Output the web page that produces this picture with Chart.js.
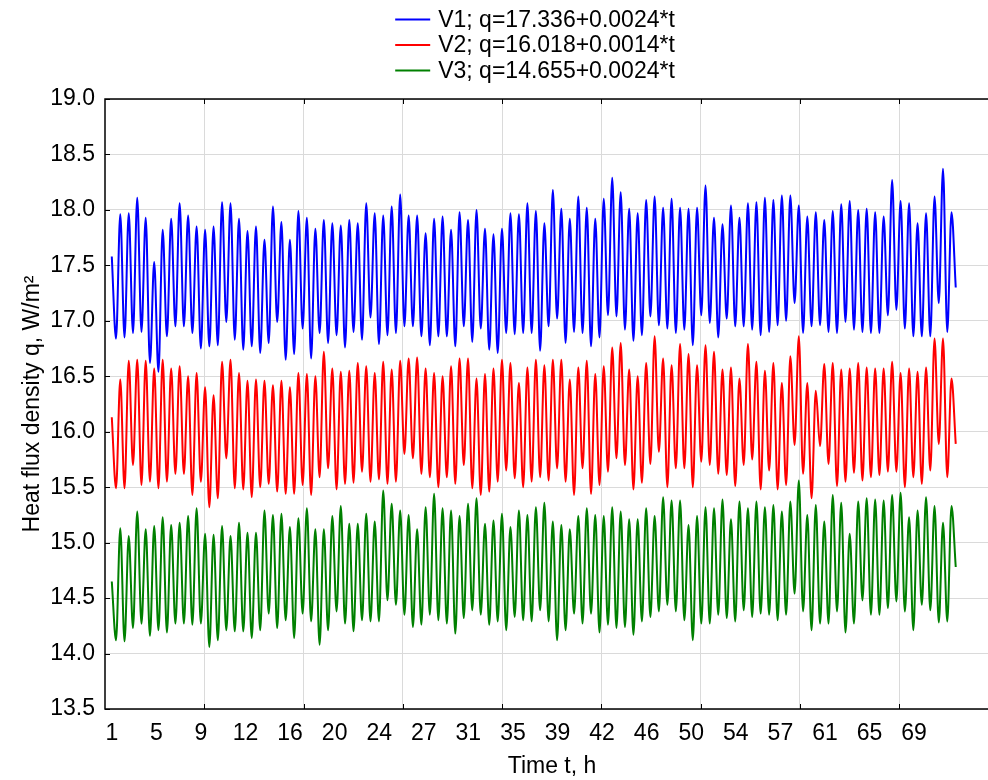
<!DOCTYPE html>
<html>
<head>
<meta charset="utf-8">
<title>Heat flux density</title>
<script src="https://cdn.jsdelivr.net/npm/chart.js@4.4.1/dist/chart.umd.min.js"></script>
<style>
  html, body { margin: 0; padding: 0; background: #fff; overflow: hidden; }
  #wrap { width: 1070px; height: 780px; }
</style>
</head>
<body>
<div id="wrap"><canvas id="chart" width="1070" height="780"></canvas></div>
<script>
// Nombres de las series (leyenda)
const seriesNames = ['V1; q=17.336+0.0024*t', 'V2; q=16.018+0.0014*t', 'V3; q=14.655+0.0024*t'];

// Etiquetas del eje de tiempo, h
const timeLabels = ['1', '5', '9', '12', '16', '20', '24', '27', '31', '35', '39', '42', '46', '50', '54', '57', '61', '65', '69'];

// Valores: máximos y mínimos alternos de cada serie, W/m2
const v1 = [17.58,
  16.84, 17.96, 16.85, 17.97, 16.89, 18.11, 16.90, 17.93, 16.62, 17.53, 16.54, 17.82, 16.86, 17.92, 16.95, 18.06, 16.95, 17.95, 16.89, 17.85, 16.75, 17.82, 16.77, 17.85,
  16.78, 18.07, 16.99, 18.06, 16.83, 17.92, 16.74, 17.81, 16.77, 17.85, 16.71, 17.73, 16.80, 18.03, 16.99, 17.89, 16.65, 17.73, 16.70, 17.99, 16.93, 17.93, 16.66, 17.83, 16.89, 17.91,
  16.80, 17.88, 16.87, 17.86, 16.76, 17.91, 16.90, 17.88, 16.83, 18.06, 17.03, 17.97, 16.79, 17.95, 16.87, 18.03, 16.89, 18.14, 16.95, 17.95, 16.95, 17.95, 16.86, 17.79, 16.78, 17.92,
  16.86, 17.94, 16.86, 17.82, 16.77, 17.98, 16.95, 17.91, 16.81, 18.00, 16.93, 17.83, 16.74, 17.78, 16.71, 17.83, 16.89, 17.97, 16.88, 17.96, 16.89, 18.06, 16.89, 17.99, 16.73, 17.88,
  16.95, 18.18, 17.02, 18.01, 16.80, 17.92, 16.90, 18.12, 16.89, 18.02, 16.77, 17.92, 16.85, 18.10, 17.05, 18.29, 17.04, 18.16, 16.92, 18.01, 16.82, 17.97, 16.87, 18.09, 17.04, 18.12,
  16.96, 18.02, 16.93, 18.10, 16.89, 18.02, 16.92, 18.01, 16.78, 18.02, 17.05, 18.22, 16.98, 17.93, 16.85, 17.87, 17.02, 18.04, 16.95, 17.93, 16.95, 18.06, 16.92, 18.07, 16.87,
  18.11, 16.90, 18.09, 16.96, 18.13, 17.00, 18.13, 17.16, 18.04, 16.89, 17.94, 16.95, 17.98, 16.96, 17.91, 16.90, 17.99, 16.89, 18.05, 16.99, 18.08, 16.92, 18.00, 16.90, 18.01, 16.89,
  17.98, 16.89, 17.94, 17.05, 18.27, 17.10, 18.08, 16.93, 18.06, 16.86, 17.88, 16.86, 17.97, 16.86, 18.12, 17.16, 18.37, 16.90, 17.98, 17.30];

const v2 = [16.13,
  15.49, 16.47, 15.49, 16.64, 15.70, 16.65, 15.52, 16.64, 15.55, 16.57, 15.49, 16.65, 15.55, 16.57, 15.62, 16.59, 15.62, 16.50, 15.43, 16.53, 15.55, 16.40, 15.32, 16.33,
  15.40, 16.63, 15.76, 16.65, 15.49, 16.53, 15.48, 16.46, 15.41, 16.47, 15.50, 16.46, 15.53, 16.42, 15.46, 16.46, 15.44, 16.40, 15.44, 16.53, 15.52, 16.52, 15.43, 16.50, 15.59, 16.72,
  15.67, 16.57, 15.48, 16.54, 15.53, 16.55, 15.54, 16.62, 15.64, 16.59, 15.55, 16.53, 15.57, 16.63, 15.53, 16.56, 15.55, 16.64, 15.80, 16.66, 15.76, 16.67, 15.62, 16.57, 15.59, 16.53,
  15.50, 16.50, 15.59, 16.59, 15.53, 16.66, 15.70, 16.66, 15.49, 16.48, 15.43, 16.52, 15.46, 16.57, 15.55, 16.65, 15.65, 16.62, 15.58, 16.44, 15.50, 16.58, 15.55, 16.65, 15.59, 16.60,
  15.56, 16.65, 15.67, 16.65, 15.55, 16.47, 15.43, 16.58, 15.67, 16.64, 15.44, 16.52, 15.52, 16.59, 15.64, 16.76, 15.76, 16.80, 15.70, 16.56, 15.48, 16.50, 15.54, 16.62, 15.71, 16.86,
  15.82, 16.66, 15.50, 16.60, 15.67, 16.79, 15.67, 16.70, 15.50, 16.60, 15.73, 16.78, 15.70, 16.72, 15.62, 16.56, 15.61, 16.58, 15.51, 16.48, 15.70, 16.79, 15.75, 16.63, 15.48,
  16.55, 15.65, 16.62, 15.48, 16.44, 15.52, 16.68, 15.88, 16.86, 15.62, 16.44, 15.40, 16.37, 15.87, 16.61, 15.71, 16.62, 15.51, 16.56, 15.55, 16.57, 15.63, 16.62, 15.56, 16.58, 15.59,
  16.57, 15.61, 16.57, 15.64, 16.63, 15.64, 16.53, 15.50, 16.57, 15.59, 16.54, 15.53, 16.58, 15.65, 16.84, 15.89, 16.84, 15.59, 16.48, 15.89];

const v3 = [14.65,
  14.12, 15.13, 14.11, 15.06, 14.23, 15.28, 14.27, 15.12, 14.16, 15.15, 14.21, 15.23, 14.19, 15.16, 14.27, 15.18, 14.27, 15.24, 14.26, 15.31, 14.27, 15.08, 14.06, 15.07,
  14.12, 15.15, 14.21, 15.06, 14.20, 15.18, 14.20, 15.09, 14.14, 15.09, 14.21, 15.29, 14.36, 15.25, 14.23, 15.26, 14.30, 15.14, 14.14, 15.22, 14.36, 15.31, 14.29, 15.12, 14.08, 15.12,
  14.21, 15.24, 14.38, 15.33, 14.27, 15.17, 14.20, 15.17, 14.30, 15.26, 14.29, 15.19, 14.29, 15.47, 14.48, 15.35, 14.44, 15.29, 14.35, 15.25, 14.24, 15.12, 14.26, 15.32, 14.35, 15.44,
  14.30, 15.31, 14.27, 15.29, 14.18, 15.24, 14.32, 15.35, 14.39, 15.40, 14.35, 15.17, 14.26, 15.20, 14.29, 15.26, 14.21, 15.14, 14.33, 15.29, 14.30, 15.25, 14.29, 15.32, 14.39, 15.36,
  14.29, 15.19, 14.12, 15.16, 14.21, 15.12, 14.36, 15.24, 14.27, 15.31, 14.36, 15.25, 14.19, 15.24, 14.26, 15.32, 14.23, 15.28, 14.24, 15.21, 14.17, 15.21, 14.29, 15.31, 14.33, 15.24,
  14.38, 15.41, 14.44, 15.38, 14.38, 15.38, 14.30, 15.16, 14.12, 15.24, 14.27, 15.32, 14.27, 15.31, 14.35, 15.39, 14.32, 15.21, 14.29, 15.37, 14.39, 15.31, 14.33, 15.37, 14.36,
  15.32, 14.35, 15.34, 14.30, 15.28, 14.35, 15.37, 14.54, 15.56, 14.38, 15.25, 14.21, 15.34, 14.27, 15.19, 14.27, 15.43, 14.38, 15.36, 14.19, 15.08, 14.27, 15.37, 14.48, 15.40, 14.35,
  15.39, 14.35, 15.38, 14.41, 15.43, 14.47, 15.45, 14.38, 15.23, 14.21, 15.29, 14.44, 15.41, 14.39, 15.33, 14.28, 15.18, 14.29, 15.33, 14.78];

const seriesColors = ['#0000ff', '#ff0000', '#008000'];

// Escala x en número de muestra
const xMin = -1.6;
const xMax = 209.2;
const labelStep = 10.51;   // muestras entre etiquetas de tiempo
const gridStep = 23.41;    // muestras entre líneas de rejilla

Chart.defaults.font.family = '"Liberation Sans", Arial, sans-serif';
Chart.defaults.font.size = 23;
Chart.defaults.color = '#000';

// Marco del gráfico con marcas hacia dentro
const frameTicks = {
    id: 'frameTicks',
    afterDatasetsDraw(chart) {
        const { ctx, chartArea: a, scales } = chart;
        ctx.save();
        ctx.strokeStyle = '#000';
        ctx.lineWidth = 1.5;
        ctx.strokeRect(a.left, a.top, a.right - a.left, a.bottom - a.top);
        ctx.lineWidth = 1;
        ctx.beginPath();
        scales.xGrid.ticks.forEach(t => {
            const x = Math.round(scales.xGrid.getPixelForValue(t.value)) + 0.5;
            ctx.moveTo(x, a.bottom); ctx.lineTo(x, a.bottom - 5);
            ctx.moveTo(x, a.top); ctx.lineTo(x, a.top + 5);
        });
        scales.y.ticks.forEach(t => {
            const y = Math.round(scales.y.getPixelForValue(t.value)) + 0.5;
            ctx.moveTo(a.left, y); ctx.lineTo(a.left + 5, y);
            ctx.moveTo(a.right, y); ctx.lineTo(a.right - 5, y);
        });
        ctx.stroke();
        ctx.restore();
    }
};

// Leyenda apilada y centrada arriba
const stackedLegend = {
    id: 'stackedLegend',
    afterDraw(chart) {
        const ctx = chart.ctx;
        const sets = chart.data.datasets;
        ctx.save();
        ctx.font = '23px "Liberation Sans", Arial, sans-serif';
        ctx.textBaseline = 'middle';
        const textW = Math.max(...sets.map(d => ctx.measureText(d.label).width));
        const lineLen = 35, gap = 8, rowH = 25.5, firstRow = 19.5;
        const x0 = chart.width / 2 - (lineLen + gap + textW) / 2;
        sets.forEach((d, i) => {
            const y = firstRow + i * rowH;
            ctx.strokeStyle = d.borderColor;
            ctx.lineWidth = 2;
            ctx.beginPath();
            ctx.moveTo(x0, y);
            ctx.lineTo(x0 + lineLen, y);
            ctx.stroke();
            ctx.fillStyle = '#000';
            ctx.fillText(d.label, x0 + lineLen + gap, y + 1);
        });
        ctx.restore();
    }
};

const series = [v1, v2, v3];

new Chart(document.getElementById('chart'), {
    type: 'line',
    data: {
        datasets: series.map((vals, k) => ({
            label: seriesNames[k],
            data: vals.map((q, i) => ({ x: i, y: q })),
            borderColor: seriesColors[k],
            backgroundColor: seriesColors[k],
            borderWidth: 2,
            pointRadius: 0,
            cubicInterpolationMode: 'monotone',
            fill: false
        }))
    },
    options: {
        responsive: false,
        animation: false,
        layout: { padding: { top: 99, right: 71, bottom: 0, left: 0 } },
        plugins: { legend: { display: false }, tooltip: { enabled: false } },
        scales: {
            x: {
                type: 'linear',
                position: 'bottom',
                min: xMin,
                max: xMax,
                afterBuildTicks: s => { s.ticks = timeLabels.map((_, i) => ({ value: i * labelStep })); },
                afterFit: s => { s.height = 71; },
                grid: { display: false, drawTicks: false },
                border: { display: false },
                ticks: { autoSkip: false, maxRotation: 0, padding: 11, callback: (v, i) => timeLabels[i] },
                title: { display: true, text: 'Time t, h', padding: { top: 0, bottom: 0 } }
            },
            xGrid: {
                type: 'linear',
                position: 'top',
                min: xMin,
                max: xMax,
                afterBuildTicks: s => {
                    const t = [];
                    for (let v = xMin + gridStep; v < xMax; v += gridStep) t.push({ value: v });
                    s.ticks = t;
                },
                afterFit: s => { s.height = 0; },
                grid: { color: '#dadada', drawTicks: false },
                border: { display: false },
                ticks: { display: false }
            },
            y: {
                min: 13.5,
                max: 19,
                afterFit: s => { s.width = 105; },
                grid: { color: '#dadada', drawTicks: false },
                border: { display: false },
                ticks: { stepSize: 0.5, padding: 10, callback: v => v.toFixed(1) },
                title: { display: true, text: 'Heat flux density q, W/m²', padding: { top: 19, bottom: 0 } }
            }
        }
    },
    plugins: [frameTicks, stackedLegend]
});
</script>
</body>
</html>
